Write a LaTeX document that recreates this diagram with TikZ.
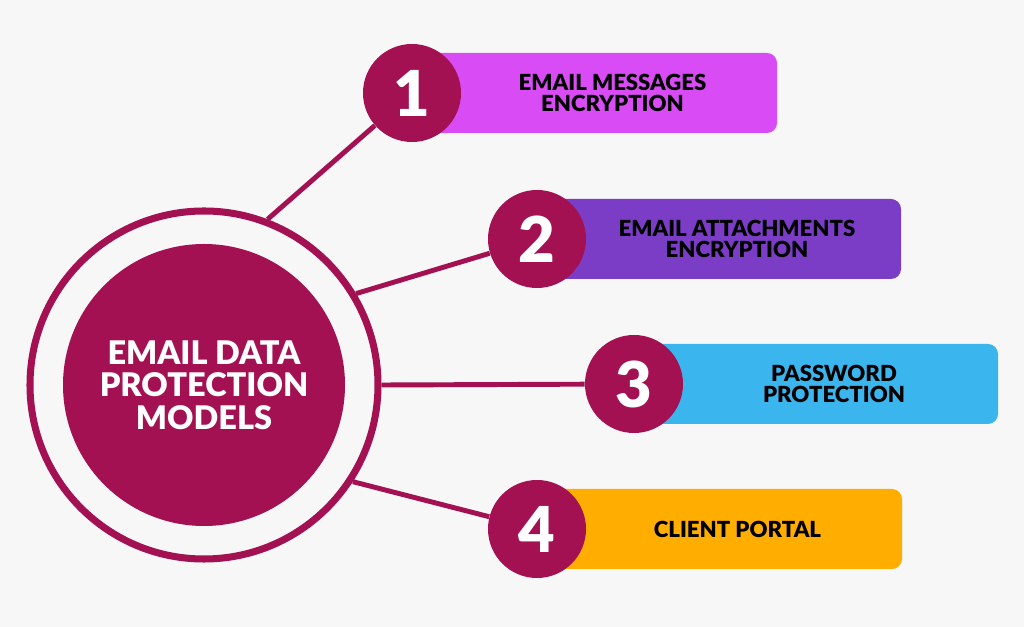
\documentclass[tikz,border=0pt]{standalone}
\usepackage{fontspec}
\setmainfont{Lato}[BoldFont={Lato Black}]
\usepackage{tikz}
\usetikzlibrary{positioning}
\definecolor{hubred}{HTML}{A31153}
\definecolor{bgray}{HTML}{F7F7F7}
\definecolor{boxa}{HTML}{D94CF5}
\definecolor{boxb}{HTML}{7B3DC6}
\definecolor{boxc}{HTML}{3AB5EE}
\definecolor{boxd}{HTML}{FFAE00}
\tikzset{
  ring/.style={circle,draw=hubred,line width=4pt,minimum size=69.6mm,inner sep=0pt},
  hub/.style={circle,fill=hubred,minimum size=56.4mm,inner sep=0pt,text=white,align=center,
    font=\bfseries\fontsize{18.5}{18.5}\selectfont},
  num/.style={circle,fill=hubred,minimum size=19.6mm,inner sep=0pt,text=white,
    font=\bfseries\fontsize{36}{36}\selectfont},
  lab/.style={align=center,text=black,font=\bfseries\fontsize{12.6}{12}\selectfont},
  link/.style={draw=hubred,line width=2.8pt}
}

\begin{document}
\begin{tikzpicture}[x=0.2mm,y=0.2mm]
\fill[bgray] (0,0) rectangle (1024,627);
\useasboundingbox (0,0) rectangle (1024,627);
\node[ring] (ring) at (204,242) {};
\node[hub] (hub) at (204,242) {EMAIL DATA\\PROTECTION\\MODELS};
\foreach \i/\x/\y/\w/\c/\t in {1/412/534/365/boxa/{EMAIL MESSAGES\\ENCRYPTION},
    2/537/388/364/boxb/{EMAIL ATTACHMENTS\\ENCRYPTION},
    3/634/243/364/boxc/{PASSWORD\\PROTECTION},
    4/537/98/365/boxd/{CLIENT PORTAL}}{
  \fill[\c,rounded corners=2mm] (\x,\y-40) rectangle ++(\w,80);
  \node[lab] (lab\i) at (\x+\w/2+18,\y) {\t};
  \node[num] (num\i) at (\x,\y) {\i};
}
\foreach \i/\a in {1/69,2/31,3/0,4/-33}
  \draw[link] (ring.\a) -- (num\i);
\end{tikzpicture}
\end{document}
